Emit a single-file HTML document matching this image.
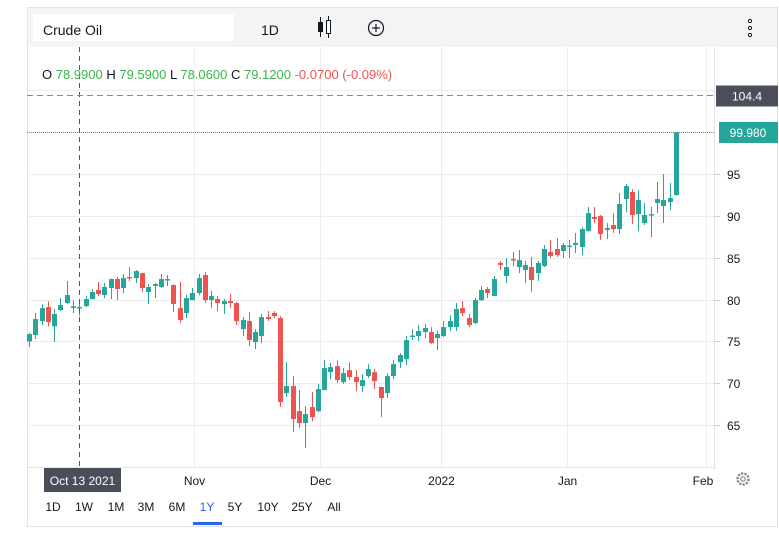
<!DOCTYPE html>
<html><head><meta charset="utf-8">
<style>
body{margin:0;background:#fff;width:779px;height:533px;overflow:hidden;font-family:"Liberation Sans",sans-serif;}
svg{position:absolute;left:0;top:0}
</style></head>
<body>
<svg id="c" width="779" height="533" xmlns="http://www.w3.org/2000/svg">
 <rect x="27.5" y="7.5" width="750" height="519" fill="#fff" stroke="#e0e3eb"/>
 <rect x="28" y="8" width="749" height="39" fill="#f4f4f4"/>
 <rect x="33" y="14" width="201" height="27" fill="#fff"/>
 <text x="43" y="35" font-size="14" fill="#131722">Crude Oil</text>
 <text x="261" y="35" font-size="14" fill="#131722">1D</text>
 <g>
  <line x1="320.5" y1="17" x2="320.5" y2="37" stroke="#131722"/>
  <rect x="318" y="22" width="5" height="10" fill="#131722"/>
  <line x1="328.5" y1="16" x2="328.5" y2="38" stroke="#131722"/>
  <rect x="326.5" y="20.5" width="4" height="13" fill="#fff" stroke="#131722"/>
 </g>
 <g>
  <circle cx="376" cy="28" r="7.5" fill="none" stroke="#131722" stroke-width="1.2"/>
  <line x1="372" y1="28" x2="380" y2="28" stroke="#131722" stroke-width="1.2"/>
  <line x1="376" y1="24" x2="376" y2="32" stroke="#131722" stroke-width="1.2"/>
 </g>
 <g fill="none" stroke="#131722">
  <circle cx="750" cy="21" r="1.6"/><circle cx="750" cy="28" r="1.6"/><circle cx="750" cy="35" r="1.6"/>
 </g>
 <g id="grid"></g>
 <line x1="714.5" y1="47" x2="714.5" y2="470" stroke="#e0e3eb"/>
 <line x1="27" y1="467.5" x2="716" y2="467.5" stroke="#e0e3eb"/>
 <g id="yticks"></g>
 <g id="xticks"></g>
 <g id="candles"></g>
 <line id="lastline" x1="27" x2="714" stroke="#26a69a" stroke-dasharray="1,1"/>
 <line x1="79.5" y1="47" x2="79.5" y2="467" stroke="#555" stroke-dasharray="5,4"/>
 <line id="hcross" x1="27" x2="714" stroke="#888" stroke-dasharray="6,4"/>
 <text x="42" y="79" font-size="13"><tspan fill="#131722">O </tspan><tspan fill="#3bb54a">78.9900</tspan><tspan fill="#131722"> H </tspan><tspan fill="#3bb54a">79.5900</tspan><tspan fill="#131722"> L </tspan><tspan fill="#3bb54a">78.0600</tspan><tspan fill="#131722"> C </tspan><tspan fill="#3bb54a">79.1200</tspan><tspan fill="#ef5350">  -0.0700 (-0.09%)</tspan></text>
 <g>
  <rect id="hcrossbox" x="716" width="62" height="21" fill="#4a4e59"/>
  <text id="hcrosstext" x="747" font-size="12" fill="#fff" text-anchor="middle">104.4</text>
 </g>
 <g>
  <rect id="lastbox" x="719" width="59" height="21" fill="#26a69a"/>
  <text id="lasttext" x="748" font-size="12" fill="#fff" text-anchor="middle">99.980</text>
 </g>
 <g>
  <rect x="44" y="468" width="77" height="24" fill="#4a4e59"/>
  <text x="82.5" y="485" font-size="12" fill="#fff" text-anchor="middle">Oct 13 2021</text>
 </g>
 <g fill="none" stroke="#888" stroke-width="1.2">
  <circle cx="743" cy="479" r="5.5" stroke-dasharray="2.2,1.2" stroke-width="2.4"/>
  <circle cx="743" cy="479" r="2.2"/>
 </g>
 <g id="ranges" font-size="12"></g>
 <rect x="193" y="522" width="29" height="3" fill="#2962ff"/>
</svg>
<script>
const opens=[75.0,75.76,77.43,79.1,76.8,78.75,79.58,79.0,78.99,79.22,80.06,81.14,80.54,81.38,82.45,81.38,82.69,82.57,83.16,80.9,81.62,81.5,82.33,81.73,78.98,78.39,79.94,80.78,82.93,79.94,80.06,79.46,79.82,79.58,76.47,77.43,74.92,75.64,77.91,78.39,77.79,68.83,69.66,66.67,65.24,67.15,66.67,69.19,71.33,72.05,70.14,71.57,70.74,69.66,70.86,71.33,69.55,68.83,70.86,72.53,72.89,75.6,75.64,76.12,76.12,75.4,75.64,76.71,76.71,78.98,77.79,77.19,79.94,81.26,80.42,84.37,82.81,84.84,83.88,83.52,83.88,83.16,84.01,85.68,86.04,85.8,86.3,86.52,86.28,88.18,89.86,89.98,88.3,88.9,88.42,92.01,92.85,90.21,89.14,90.1,91.53,91.17,91.65,92.49];
const highs=[76.0,78.39,79.46,79.8,78.87,80.18,82.21,79.9,79.59,80.42,81.26,82.09,81.97,82.5,82.69,83.05,83.88,83.52,83.2,81.85,81.97,83.05,82.93,81.8,82.09,80.54,81.38,83.05,83.28,81.02,80.42,80.06,80.66,79.7,77.91,78.51,76.47,78.27,78.63,78.63,78.03,72.53,70.86,69.19,67.27,68.95,69.9,72.77,72.41,72.77,71.81,72.53,71.57,71.09,72.29,71.69,69.6,71.21,72.77,73.6,75.64,76.47,76.95,77.07,76.71,76.24,77.43,78.15,79.58,79.82,78.27,80.18,81.62,81.5,82.81,84.6,84.96,85.68,85.92,84.6,85.08,84.6,86.52,87.12,87.35,86.76,87.12,87.95,88.66,91.05,91.05,90.1,89.14,90.33,92.73,93.8,93.2,93.08,91.53,91.05,94.04,95.0,93.92,99.98];
const lows=[74.33,75.28,76.95,76.8,74.92,78.63,79.46,78.4,78.06,79.1,80.0,80.42,80.18,80.06,79.94,80.78,82.21,81.97,80.9,79.46,80.18,81.38,81.62,78.51,77.19,77.79,79.9,80.54,79.58,78.98,78.63,78.27,78.98,76.95,75.64,74.45,74.09,74.8,77.43,77.79,67.15,68.35,64.17,64.64,62.26,65.48,66.55,69.15,70.5,70.02,69.9,70.38,69.07,68.95,70.62,69.31,65.96,68.23,70.5,71.81,72.17,75.16,75.04,75.4,74.68,73.97,75.52,76.24,76.24,78.03,76.71,77.1,79.82,80.18,80.4,83.53,81.97,84.0,83.16,81.97,80.9,82.21,83.88,84.96,85.08,84.96,84.96,85.56,85.32,88.1,89.14,87.12,87.23,87.95,87.83,90.45,89.02,88.18,88.9,87.47,90.33,89.14,90.69,92.4];
const closes=[75.88,77.67,78.98,77.3,78.27,79.34,80.54,79.2,79.12,80.06,80.9,80.66,81.5,82.45,81.26,82.57,82.57,83.4,81.38,81.5,81.85,82.45,82.45,79.46,77.55,80.18,80.78,82.57,79.94,80.42,79.58,79.82,79.58,77.43,77.55,75.16,76.12,77.91,77.67,78.03,67.75,69.66,65.72,65.24,66.31,65.96,69.31,71.81,71.93,70.38,71.21,70.74,70.14,70.38,71.69,70.26,68.23,70.86,72.29,73.37,75.16,75.7,76.24,76.6,74.8,75.88,76.71,77.43,78.87,78.39,76.95,79.94,81.14,80.78,82.45,84.13,83.88,84.72,84.72,84.13,82.33,84.37,86.04,85.2,85.32,86.52,86.45,86.76,88.42,90.33,89.62,87.83,88.54,88.42,91.41,93.56,90.1,91.89,90.1,90.21,92.01,91.89,92.13,99.98];
const priceTicks=[65,70,75,80,85,90,95,100,105];
const priceTickLabels=["65","70","75","80","85","90","95","",""];
const timeTickIdx=[26.3,46.3,65.6,85.7,107.8];
const timeTickLabels=["Nov","Dec","2022","Jan","Feb"];
const crossPrice=104.4;
const rangeLabels=["1D","1W","1M","3M","6M","1Y","5Y","10Y","25Y","All"];

const NS="http://www.w3.org/2000/svg";
const y=v=>174+(95-v)*8.37;
const x=i=>29+i*6.28;
function mk(tag,attrs,parent){const e=document.createElementNS(NS,tag);for(const k in attrs)e.setAttribute(k,attrs[k]);parent.appendChild(e);return e;}
const grid=document.getElementById('grid'),yt=document.getElementById('yticks'),xt=document.getElementById('xticks'),cg=document.getElementById('candles');
priceTicks.forEach((p,k)=>{
  const yy=Math.round(y(p))+0.5;
  const g=mk('line',{x1:27,x2:714,y1:yy,y2:yy,stroke:'#ececec'},grid);
  
  
  if(priceTickLabels[k]){
    const t=mk('line',{x1:714,x2:720,y1:yy,y2:yy,stroke:'#ccc'},yt);
    
    
    const l=mk('text',{x:727,y:yy+4.5,'font-size':12,fill:'#131722'},yt);
    l.textContent=priceTickLabels[k];
    
    
  }
});
timeTickIdx.forEach((ix,k)=>{
  const xx=Math.round(x(ix))+0.5;
  const g=mk('line',{x1:xx,x2:xx,y1:47,y2:467,stroke:'#ececec'},grid);
  
  
  const l=mk('text',{x:Math.min(xx,703),y:485,'font-size':12,fill:'#131722','text-anchor':'middle'},xt);
  l.textContent=timeTickLabels[k];
  
  
});
opens.forEach((o,i)=>{
  const c=closes[i],up=c>=o,col=up?'#26a69a':'#ef5350';
  const cx=Math.round(x(i));
  const g=mk('g',{},cg);
  
  
  mk('line',{x1:cx+0.5,x2:cx+0.5,y1:y(highs[i]),y2:y(lows[i]),stroke:col,'stroke-width':1},g);
  const t=y(Math.max(o,c)),b=y(Math.min(o,c));
  mk('rect',{x:cx-2,y:t,width:5,height:Math.max(1.5,b-t),fill:col},g);
});
const lastY=Math.round(y(closes[closes.length-1]))+0.5;
const ll=document.getElementById('lastline');ll.setAttribute('y1',lastY);ll.setAttribute('y2',lastY);
document.getElementById('lastbox').setAttribute('y',lastY-10.5);
document.getElementById('lasttext').setAttribute('y',lastY+4.5);
document.getElementById('lasttext').textContent=closes[closes.length-1].toFixed(3);
const hy=Math.round(y(crossPrice))+0.5;
const hc=document.getElementById('hcross');hc.setAttribute('y1',hy);hc.setAttribute('y2',hy);
document.getElementById('hcrossbox').setAttribute('y',hy-10);
document.getElementById('hcrosstext').setAttribute('y',hy+5);
const rx=[53,84,116,146,177,207,235,268,302,334];
const rg=document.getElementById('ranges');
rangeLabels.forEach((r,k)=>{
  const t=mk('text',{x:rx[k],y:511,'text-anchor':'middle',fill:r==='1Y'?'#2962ff':'#131722'},rg);
  t.textContent=r;
  
  
});
</script>
</body></html>
